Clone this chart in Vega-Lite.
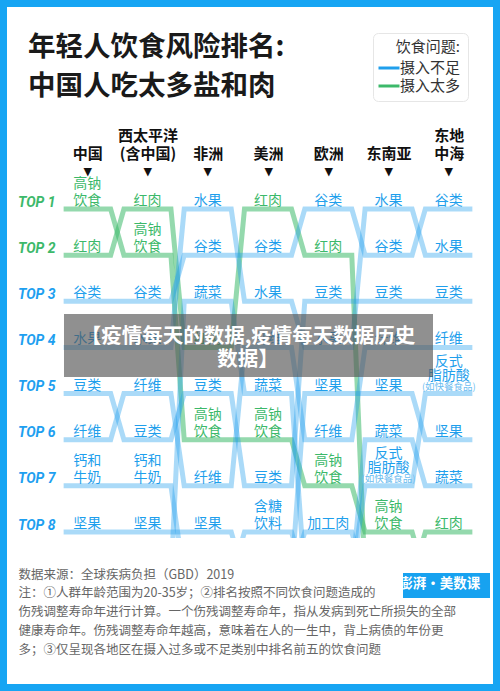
{
  "$schema": "https://vega.github.io/schema/vega-lite/v6.json",
  "width": 422,
  "height": 364,
  "autosize": "none",
  "padding": {"left": 57, "top": 174, "right": 21, "bottom": 153},
  "background": "white",
  "config": {
    "font": "Noto Sans CJK SC",
    "view": {"stroke": null},
    "legend": {
      "orient": "none",
      "legendX": 316,
      "legendY": -141,
      "padding": 7,
      "strokeColor": "#e6e6e6",
      "fillColor": "white",
      "cornerRadius": 5,
      "titleFont": "Noto Sans CJK SC",
      "titleFontSize": 15,
      "titleFontWeight": "normal",
      "titleColor": "#333333",
      "titleAnchor": "end",
      "titlePadding": 4,
      "labelFont": "Noto Sans CJK SC",
      "labelFontSize": 15,
      "labelColor": "#333333",
      "labelOffset": 2,
      "symbolType": "M-1.4,0H1.4",
      "symbolStrokeWidth": 3,
      "symbolSize": 225,
      "symbolOpacity": 1,
      "rowPadding": 1
    }
  },
  "title": {
    "text": ["年轻人饮食风险排名:", "中国人吃太多盐和肉"],
    "anchor": "start",
    "frame": "group",
    "dx": -29,
    "offset": -108,
    "font": "Noto Sans CJK SC",
    "fontSize": 27.5,
    "fontWeight": "bold",
    "color": "#1a1a1a",
    "lineHeight": 39
  },
  "data": {
    "values": [
      {"region": "中国", "item": "高钠\n饮食", "rank": 1, "type": "摄入太多"},
      {"region": "中国", "item": "红肉", "rank": 2, "type": "摄入太多"},
      {"region": "中国", "item": "谷类", "rank": 3, "type": "摄入不足"},
      {"region": "中国", "item": "水果", "rank": 4, "type": "摄入不足"},
      {"region": "中国", "item": "豆类", "rank": 5, "type": "摄入不足"},
      {"region": "中国", "item": "纤维", "rank": 6, "type": "摄入不足"},
      {"region": "中国", "item": "钙和\n牛奶", "rank": 7, "type": "摄入不足"},
      {"region": "中国", "item": "坚果", "rank": 8, "type": "摄入不足"},
      {"region": "西太平洋", "item": "红肉", "rank": 1, "type": "摄入太多"},
      {"region": "西太平洋", "item": "高钠\n饮食", "rank": 2, "type": "摄入太多"},
      {"region": "西太平洋", "item": "谷类", "rank": 3, "type": "摄入不足"},
      {"region": "西太平洋", "item": "水果", "rank": 4, "type": "摄入不足"},
      {"region": "西太平洋", "item": "纤维", "rank": 5, "type": "摄入不足"},
      {"region": "西太平洋", "item": "豆类", "rank": 6, "type": "摄入不足"},
      {"region": "西太平洋", "item": "钙和\n牛奶", "rank": 7, "type": "摄入不足"},
      {"region": "西太平洋", "item": "坚果", "rank": 8, "type": "摄入不足"},
      {"region": "非洲", "item": "水果", "rank": 1, "type": "摄入不足"},
      {"region": "非洲", "item": "谷类", "rank": 2, "type": "摄入不足"},
      {"region": "非洲", "item": "蔬菜", "rank": 3, "type": "摄入不足"},
      {"region": "非洲", "item": "红肉", "rank": 4, "type": "摄入太多"},
      {"region": "非洲", "item": "豆类", "rank": 5, "type": "摄入不足"},
      {"region": "非洲", "item": "高钠\n饮食", "rank": 6, "type": "摄入太多"},
      {"region": "非洲", "item": "纤维", "rank": 7, "type": "摄入不足"},
      {"region": "非洲", "item": "坚果", "rank": 8, "type": "摄入不足"},
      {"region": "美洲", "item": "红肉", "rank": 1, "type": "摄入太多"},
      {"region": "美洲", "item": "谷类", "rank": 2, "type": "摄入不足"},
      {"region": "美洲", "item": "水果", "rank": 3, "type": "摄入不足"},
      {"region": "美洲", "item": "纤维", "rank": 4, "type": "摄入不足"},
      {"region": "美洲", "item": "蔬菜", "rank": 5, "type": "摄入不足"},
      {"region": "美洲", "item": "高钠\n饮食", "rank": 6, "type": "摄入太多"},
      {"region": "美洲", "item": "豆类", "rank": 7, "type": "摄入不足"},
      {"region": "美洲", "item": "含糖\n饮料", "rank": 8, "type": "摄入不足"},
      {"region": "欧洲", "item": "谷类", "rank": 1, "type": "摄入不足"},
      {"region": "欧洲", "item": "红肉", "rank": 2, "type": "摄入太多"},
      {"region": "欧洲", "item": "豆类", "rank": 3, "type": "摄入不足"},
      {"region": "欧洲", "item": "水果", "rank": 4, "type": "摄入不足"},
      {"region": "欧洲", "item": "坚果", "rank": 5, "type": "摄入不足"},
      {"region": "欧洲", "item": "纤维", "rank": 6, "type": "摄入不足"},
      {"region": "欧洲", "item": "高钠\n饮食", "rank": 7, "type": "摄入太多"},
      {"region": "欧洲", "item": "加工肉", "rank": 8, "type": "摄入不足"},
      {"region": "东南亚", "item": "水果", "rank": 1, "type": "摄入不足"},
      {"region": "东南亚", "item": "谷类", "rank": 2, "type": "摄入不足"},
      {"region": "东南亚", "item": "豆类", "rank": 3, "type": "摄入不足"},
      {"region": "东南亚", "item": "纤维", "rank": 4, "type": "摄入不足"},
      {"region": "东南亚", "item": "坚果", "rank": 5, "type": "摄入不足"},
      {"region": "东南亚", "item": "蔬菜", "rank": 6, "type": "摄入不足"},
      {"region": "东南亚", "item": "反式\n脂肪酸", "note": "(如快餐食品)", "rank": 7, "type": "摄入不足"},
      {"region": "东南亚", "item": "高钠\n饮食", "rank": 8, "type": "摄入太多"},
      {"region": "东地中海", "item": "谷类", "rank": 1, "type": "摄入不足"},
      {"region": "东地中海", "item": "水果", "rank": 2, "type": "摄入不足"},
      {"region": "东地中海", "item": "豆类", "rank": 3, "type": "摄入不足"},
      {"region": "东地中海", "item": "纤维", "rank": 4, "type": "摄入不足"},
      {"region": "东地中海", "item": "反式\n脂肪酸", "note": "(如快餐食品)", "rank": 5, "type": "摄入不足"},
      {"region": "东地中海", "item": "坚果", "rank": 6, "type": "摄入不足"},
      {"region": "东地中海", "item": "蔬菜", "rank": 7, "type": "摄入不足"},
      {"region": "东地中海", "item": "红肉", "rank": 8, "type": "摄入太多"}
    ]
  },
  "resolve": {"axis": {"x": "independent", "y": "independent"}},
  "layer": [
    {
      "transform": [
        {"impute": "rank", "key": "region", "groupby": ["item", "type"], "value": 9},
        {"calculate": "indexof(['中国','西太平洋','非洲','美洲','欧洲','东南亚','东地中海'], datum.region) + 1", "as": "col"},
        {"calculate": "[datum.col - 0.39, datum.col + 0.39]", "as": "xs"},
        {"flatten": ["xs"]}
      ],
      "mark": {"type": "line", "strokeWidth": 5, "clip": true},
      "encoding": {
        "x": {
          "field": "xs", "type": "quantitative",
          "scale": {"domain": [0.5, 7.5], "nice": false, "zero": false},
          "axis": {
            "orient": "top",
            "values": [1, 2, 3, 4, 5, 6, 7],
            "labelExpr": "[['','中国','▾'],['西太平洋','(含中国)','▾'],['','非洲','▾'],['','美洲','▾'],['','欧洲','▾'],['','东南亚','▾'],['东地','中海','▾']][datum.value - 1]",
            "labelFont": "Noto Sans CJK SC",
            "labelFontSize": 15,
            "labelFontWeight": "bold",
            "labelColor": "#111111",
            "labelBaseline": "bottom",
            "labelLineHeight": 17.5,
            "labelPadding": 30.5,
            "labelAngle": 0,
            "labelOverlap": false,
            "labelFlush": false,
            "labelBound": false,
            "domain": false,
            "ticks": false,
            "grid": false,
            "title": null
          }
        },
        "y": {
          "field": "rank", "type": "quantitative",
          "scale": {"domain": [0.24, 8.13], "reverse": true, "nice": false, "zero": false},
          "axis": {
            "orient": "left",
            "values": [1, 2, 3, 4, 5, 6, 7, 8],
            "labelExpr": "'TOP ' + datum.value",
            "labelColor": {"condition": {"test": "datum.value <= 2", "value": "#3cb96a"}, "value": "#1e9ff0"},
            "labelFont": "Roboto",
            "labelFontStyle": "italic",
            "labelFontWeight": "bold",
            "labelFontSize": 14,
            "labelPadding": 2,
            "labelOffset": -7,
            "labelOverlap": false,
            "labelFlush": false,
            "labelBound": false,
            "domain": false,
            "ticks": false,
            "grid": false,
            "title": null
          }
        },
        "detail": {"field": "item"},
        "color": {
          "field": "type", "type": "nominal",
          "scale": {"domain": ["摄入不足", "摄入太多"], "range": ["#1f9fec", "#3cb96a"]},
          "legend": {"title": "饮食问题:"}
        },
        "strokeOpacity": {"condition": {"test": "datum.type == '摄入太多'", "value": 0.55}, "value": 0.38}
      }
    },
    {
      "transform": [
        {"filter": "indexof(datum.item, '\\n') < 0"},
        {"calculate": "indexof(['中国','西太平洋','非洲','美洲','欧洲','东南亚','东地中海'], datum.region) + 1", "as": "col"}
      ],
      "mark": {"type": "text", "baseline": "bottom", "align": "center", "fontSize": 14, "dy": -1},
      "encoding": {
        "x": {
          "field": "col", "type": "quantitative",
          "scale": {"domain": [0.5, 7.5], "nice": false, "zero": false},
          "axis": {
            "orient": "bottom",
            "labels": false,
            "ticks": false,
            "domain": false,
            "grid": false,
            "title": [
              "数据来源：全球疾病负担（GBD）2019",
              "注：①人群年龄范围为20-35岁；②排名按照不同饮食问题造成的",
              "伤残调整寿命年进行计算。一个伤残调整寿命年，指从发病到死亡所损失的全部",
              "健康寿命年。伤残调整寿命年越高，意味着在人的一生中，背上病债的年份更",
              "多；③仅呈现各地区在摄入过多或不足类别中排名前五的饮食问题"
            ],
            "titleX": -39,
            "titleY": 30,
            "titleAlign": "left",
            "titleAnchor": "start",
            "titleBaseline": "top",
            "titleAngle": 0,
            "titleFont": "Noto Sans CJK SC",
            "titleFontSize": 12.5,
            "titleFontWeight": "normal",
            "titleColor": "#666666",
            "titleLineHeight": 18.75
          }
        },
        "y": {"field": "rank", "type": "quantitative", "scale": {"domain": [0.24, 8.13], "reverse": true, "nice": false, "zero": false}, "axis": null},
        "text": {"field": "item"},
        "color": {"field": "type", "type": "nominal", "scale": {"domain": ["摄入不足", "摄入太多"], "range": ["#1f9fec", "#3cb96a"]}, "legend": null}
      }
    },
    {
      "transform": [
        {"filter": "indexof(datum.item, '\\n') >= 0 && !datum.note"},
        {"calculate": "indexof(['中国','西太平洋','非洲','美洲','欧洲','东南亚','东地中海'], datum.region) + 1", "as": "col"}
      ],
      "mark": {"type": "text", "baseline": "bottom", "align": "center", "fontSize": 14, "lineHeight": 17, "lineBreak": "\n", "dy": -18},
      "encoding": {
        "x": {"field": "col", "type": "quantitative", "scale": {"domain": [0.5, 7.5], "nice": false, "zero": false}, "axis": null},
        "y": {"field": "rank", "type": "quantitative", "scale": {"domain": [0.24, 8.13], "reverse": true, "nice": false, "zero": false}, "axis": null},
        "text": {"field": "item"},
        "color": {"field": "type", "type": "nominal", "scale": {"domain": ["摄入不足", "摄入太多"], "range": ["#1f9fec", "#3cb96a"]}, "legend": null}
      }
    },
    {
      "transform": [
        {"filter": "datum.note"},
        {"calculate": "indexof(['中国','西太平洋','非洲','美洲','欧洲','东南亚','东地中海'], datum.region) + 1", "as": "col"}
      ],
      "mark": {"type": "text", "baseline": "bottom", "align": "center", "fontSize": 14, "lineHeight": 14, "lineBreak": "\n", "dy": -25},
      "encoding": {
        "x": {"field": "col", "type": "quantitative", "scale": {"domain": [0.5, 7.5], "nice": false, "zero": false}, "axis": null},
        "y": {"field": "rank", "type": "quantitative", "scale": {"domain": [0.24, 8.13], "reverse": true, "nice": false, "zero": false}, "axis": null},
        "text": {"field": "item"},
        "color": {"field": "type", "type": "nominal", "scale": {"domain": ["摄入不足", "摄入太多"], "range": ["#1f9fec", "#3cb96a"]}, "legend": null}
      }
    },
    {
      "transform": [
        {"filter": "datum.note"},
        {"calculate": "indexof(['中国','西太平洋','非洲','美洲','欧洲','东南亚','东地中海'], datum.region) + 1", "as": "col"}
      ],
      "mark": {"type": "text", "baseline": "bottom", "align": "center", "fontSize": 9.5, "dy": -1.5, "color": "#6bbcf0"},
      "encoding": {
        "x": {"field": "col", "type": "quantitative", "scale": {"domain": [0.5, 7.5], "nice": false, "zero": false}, "axis": null},
        "y": {"field": "rank", "type": "quantitative", "scale": {"domain": [0.24, 8.13], "reverse": true, "nice": false, "zero": false}, "axis": null},
        "text": {"field": "note"}
      }
    },
    {
      "data": {"values": [{"overlay": "【疫情每天的数据,疫情每天数据历史数据】"}]},
      "mark": {"type": "rect", "color": "#555555", "opacity": 0.65, "clip": false},
      "encoding": {
        "x": {"datum": 0.6161, "type": "quantitative", "scale": {"domain": [0.5, 7.5], "nice": false, "zero": false}, "axis": null},
        "x2": {"datum": 6.737},
        "y": {"datum": 3.2746, "type": "quantitative", "scale": {"domain": [0.24, 8.13], "reverse": true, "nice": false, "zero": false}, "axis": null},
        "y2": {"datum": 4.6402}
      }
    },
    {
      "data": {"values": [{"overlay": ["【疫情每天的数据,疫情每天数据历史", "数据】"]}]},
      "mark": {"type": "text", "align": "center", "baseline": "middle", "fontSize": 20.5, "fontWeight": "bold", "color": "white", "lineHeight": 23, "dy": -8},
      "encoding": {
        "x": {"datum": 3.6683, "type": "quantitative", "scale": {"domain": [0.5, 7.5], "nice": false, "zero": false}, "axis": null},
        "y": {"datum": 3.9358, "type": "quantitative", "scale": {"domain": [0.24, 8.13], "reverse": true, "nice": false, "zero": false}, "axis": null},
        "text": {"field": "overlay"}
      }
    },
    {
      "data": {"values": [{"logo": "澎湃·美数课"}]},
      "mark": {"type": "rect", "color": "#17a2f0", "clip": false},
      "encoding": {
        "x": {"datum": 6.2393, "type": "quantitative", "scale": {"domain": [0.5, 7.5], "nice": false, "zero": false}, "axis": null},
        "x2": {"datum": 7.6825},
        "y": {"datum": 8.8887, "type": "quantitative", "scale": {"domain": [0.24, 8.13], "reverse": true, "nice": false, "zero": false}, "axis": null},
        "y2": {"datum": 9.4306}
      }
    },
    {
      "data": {"values": [{"logo": "澎湃·美数课"}]},
      "mark": {"type": "text", "align": "center", "baseline": "middle", "fontSize": 13.5, "fontWeight": "bold", "color": "white"},
      "encoding": {
        "x": {"datum": 6.85, "type": "quantitative", "scale": {"domain": [0.5, 7.5], "nice": false, "zero": false}, "axis": null},
        "y": {"datum": 9.1272, "type": "quantitative", "scale": {"domain": [0.24, 8.13], "reverse": true, "nice": false, "zero": false}, "axis": null},
        "text": {"field": "logo"}
      }
    },
    {
      "data": {"values": [{"frame": "border"}]},
      "mark": {"type": "rect", "filled": false, "stroke": "#17a5f3", "strokeWidth": 14, "clip": false},
      "encoding": {
        "x": {"datum": -0.4455, "type": "quantitative", "scale": {"domain": [0.5, 7.5], "nice": false, "zero": false}, "axis": null},
        "x2": {"datum": 7.8483},
        "y": {"datum": -3.5316, "type": "quantitative", "scale": {"domain": [0.24, 8.13], "reverse": true, "nice": false, "zero": false}, "axis": null},
        "y2": {"datum": 11.4464}
      }
    }
  ]
}
